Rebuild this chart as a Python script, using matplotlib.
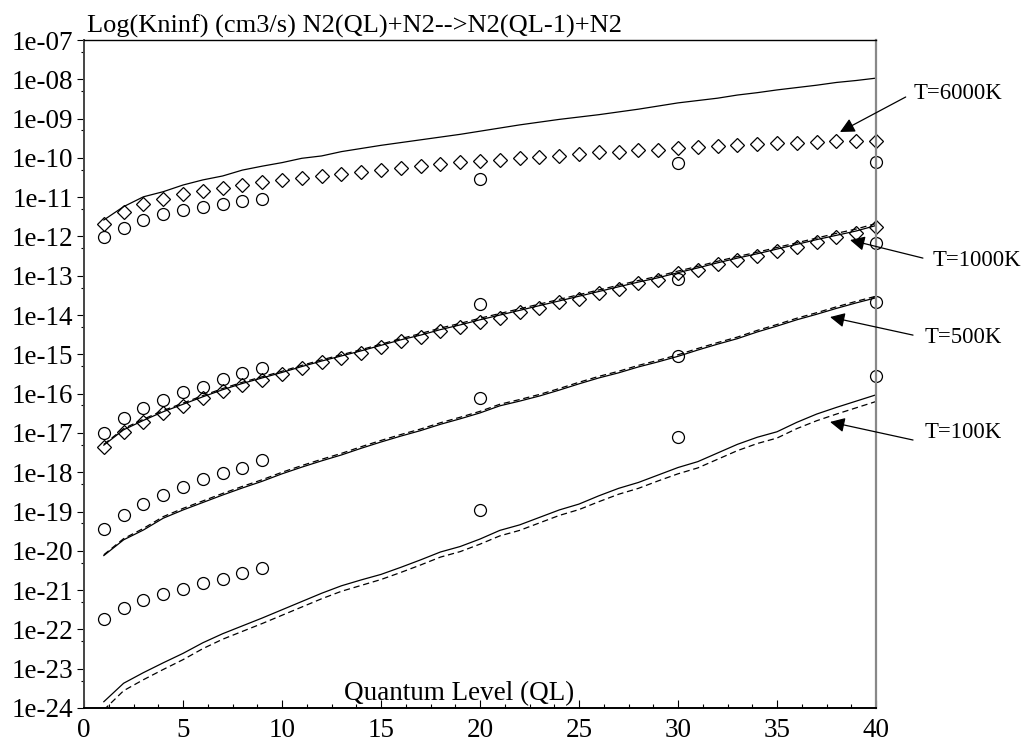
import numpy as np
import matplotlib
matplotlib.use("Agg")
import matplotlib.pyplot as plt
from matplotlib.ticker import FixedLocator, MultipleLocator, NullFormatter

plt.rcParams['font.family'] = ['Liberation Serif', 'DejaVu Serif']

# quantum levels
ql = np.arange(1, 41)
ql_circ = [1, 2, 3, 4, 5, 6, 7, 8, 9, 20, 30, 40]

# log10 of rate constants
# T=6000K
line_6000 = [-11.58, -11.24, -10.99, -10.86, -10.69, -10.56, -10.46, -10.31, -10.21, -10.12,
             -10.01, -9.95, -9.84, -9.76, -9.68, -9.61, -9.54, -9.47, -9.40, -9.32,
             -9.24, -9.16, -9.09, -9.02, -8.96, -8.90, -8.83, -8.76, -8.68, -8.60,
             -8.54, -8.48, -8.40, -8.34, -8.27, -8.21, -8.15, -8.08, -8.03, -7.97]
diam_6000 = [-11.68, -11.38, -11.18, -11.05, -10.93, -10.84, -10.76, -10.69, -10.61, -10.56,
             -10.50, -10.46, -10.41, -10.35, -10.31, -10.26, -10.21, -10.16, -10.11, -10.07,
             -10.05, -10.01, -9.97, -9.95, -9.91, -9.86, -9.84, -9.81, -9.79, -9.76,
             -9.72, -9.70, -9.67, -9.65, -9.63, -9.61, -9.60, -9.57, -9.56, -9.56]
circ_6000 = [-12.02, -11.78, -11.58, -11.44, -11.33, -11.24, -11.18, -11.09, -11.05, -10.54, -10.12, -10.10]

# T=1000K
line_1000 = [-17.31, -16.92, -16.68, -16.46, -16.27, -16.08, -15.90, -15.74, -15.60, -15.46,
             -15.31, -15.17, -15.04, -14.91, -14.77, -14.63, -14.51, -14.37, -14.25, -14.12,
             -14.00, -13.88, -13.76, -13.64, -13.52, -13.40, -13.28, -13.16, -13.05, -12.92,
             -12.80, -12.67, -12.55, -12.44, -12.32, -12.20, -12.08, -11.97, -11.86, -11.72]
dash_1000 = [-17.29, -16.89, -16.65, -16.43, -16.24, -16.05, -15.87, -15.71, -15.57, -15.43,
             -15.28, -15.14, -15.01, -14.88, -14.74, -14.60, -14.47, -14.33, -14.21, -14.08,
             -13.96, -13.84, -13.72, -13.60, -13.48, -13.36, -13.24, -13.12, -13.01, -12.88,
             -12.76, -12.63, -12.51, -12.40, -12.28, -12.16, -12.04, -11.92, -11.81, -11.67]
diam_1000 = [-17.37, -16.97, -16.71, -16.50, -16.31, -16.12, -15.92, -15.78, -15.65, -15.49,
             -15.35, -15.19, -15.09, -14.96, -14.81, -14.66, -14.57, -14.40, -14.30, -14.17,
             -14.07, -13.93, -13.82, -13.68, -13.59, -13.45, -13.34, -13.19, -13.11, -12.94,
             -12.85, -12.70, -12.60, -12.50, -12.37, -12.26, -12.13, -12.01, -11.92, -11.75]
circ_1000 = [-16.99, -16.61, -16.37, -16.16, -15.96, -15.82, -15.63, -15.48, -15.35, -13.73, -13.09, -12.17]

# T=500K
line_500 = [-20.12, -19.72, -19.47, -19.17, -18.96, -18.77, -18.58, -18.40, -18.23, -18.04,
            -17.87, -17.71, -17.56, -17.39, -17.23, -17.08, -16.94, -16.78, -16.64, -16.49,
            -16.31, -16.19, -16.06, -15.91, -15.75, -15.60, -15.47, -15.32, -15.19, -15.05,
            -14.89, -14.74, -14.60, -14.43, -14.28, -14.12, -13.98, -13.83, -13.69, -13.56]
dash_500 = [-20.10, -19.69, -19.43, -19.13, -18.92, -18.73, -18.54, -18.36, -18.19, -18.00,
            -17.83, -17.67, -17.52, -17.35, -17.19, -17.04, -16.90, -16.74, -16.60, -16.45,
            -16.27, -16.15, -16.02, -15.87, -15.71, -15.56, -15.43, -15.28, -15.15, -15.01,
            -14.85, -14.70, -14.56, -14.39, -14.24, -14.08, -13.94, -13.79, -13.65, -13.52]
circ_500 = [-19.44, -19.10, -18.81, -18.58, -18.37, -18.18, -18.03, -17.88, -17.69, -16.12, -15.04, -13.68]

# T=100K
line_100 = [-23.84, -23.37, -23.10, -22.85, -22.61, -22.34, -22.11, -21.91, -21.71, -21.50,
            -21.29, -21.08, -20.89, -20.74, -20.60, -20.42, -20.23, -20.03, -19.89, -19.70,
            -19.48, -19.34, -19.15, -18.96, -18.81, -18.60, -18.41, -18.26, -18.07, -17.88,
            -17.73, -17.51, -17.29, -17.11, -16.97, -16.73, -16.52, -16.35, -16.19, -16.03]
dash_100 = [-24.05, -23.56, -23.28, -23.02, -22.77, -22.49, -22.25, -22.05, -21.85, -21.64,
            -21.43, -21.22, -21.03, -20.88, -20.73, -20.55, -20.36, -20.16, -20.02, -19.83,
            -19.62, -19.48, -19.29, -19.10, -18.95, -18.75, -18.56, -18.41, -18.22, -18.04,
            -17.89, -17.67, -17.45, -17.27, -17.13, -16.89, -16.69, -16.52, -16.36, -16.20]
circ_100 = [-21.74, -21.45, -21.25, -21.10, -20.97, -20.81, -20.72, -20.57, -20.43, -18.96, -17.11, -15.55]

ytick_exp = list(range(-24, -6))
ytick_labels = ['1e-%02d' % (-e) for e in ytick_exp]

fig = plt.figure(figsize=(10.26, 7.44), dpi=100)
ax = fig.add_axes([0.0819, 0.0484, 0.7719, 0.8978])

lw = 0.9
dash = (0, (5, 3))
ax.plot(ql, 10.0**np.array(line_6000), 'k-', lw=lw)
ax.plot(ql, 10.0**np.array(line_1000), 'k-', lw=lw)
ax.plot(ql, 10.0**np.array(dash_1000), 'k', ls=dash, lw=lw)
ax.plot(ql, 10.0**np.array(line_500), 'k-', lw=lw)
ax.plot(ql, 10.0**np.array(dash_500), 'k', ls=dash, lw=lw)
ax.plot(ql, 10.0**np.array(line_100), 'k-', lw=lw)
ax.plot(ql, 10.0**np.array(dash_100), 'k', ls=dash, lw=lw)

for d in [diam_6000, diam_1000]:
    ax.plot(ql, 10.0**np.array(d), 'D', ms=6.8, mfc='none', mec='k', mew=0.9, clip_on=False)
for c in [circ_6000, circ_1000, circ_500, circ_100]:
    ax.plot(ql_circ, 10.0**np.array(c), 'o', ms=8.6, mfc='none', mec='k', mew=0.9, clip_on=False)

ax.set_yscale('log')
ax.set_xlim(0, 40)
ax.set_ylim(1e-24, 1e-07)
ax.yaxis.set_major_locator(FixedLocator([10.0**e for e in ytick_exp]))
ax.set_yticklabels(ytick_labels)
ax.yaxis.set_minor_locator(FixedLocator([5 * 10.0**e for e in ytick_exp[:-1]]))
ax.yaxis.set_minor_formatter(NullFormatter())
ax.xaxis.set_major_locator(MultipleLocator(5))
ax.xaxis.set_minor_locator(MultipleLocator(1.25))

ax.tick_params(axis='y', which='major', direction='out', length=5, width=0.8, pad=3, labelsize=19.5)
ax.tick_params(axis='y', which='minor', direction='out', length=2.5, width=0.8)
ax.tick_params(axis='x', which='major', direction='in', length=5.5, width=0.8, pad=7, labelsize=19.5)
ax.tick_params(axis='x', which='minor', direction='in', length=3, width=0.8)

ax.spines['left'].set_color('#444444')
ax.spines['left'].set_linewidth(1.4)
ax.spines['bottom'].set_linewidth(1.4)
ax.spines['top'].set_linewidth(1.0)
ax.spines['right'].set_color('#888888')
ax.spines['right'].set_linewidth(1.6)

ax.text(0.004, 1.0105, 'Log(Kninf) (cm3/s) N2(QL)+N2-->N2(QL-1)+N2', transform=ax.transAxes,
        ha='left', va='baseline', fontsize=19)
ax.text(0.473, 0.012, 'Quantum Level (QL)', transform=ax.transAxes,
        ha='center', va='baseline', fontsize=19.5)

arrow = dict(arrowstyle='-|>', color='k', lw=0.9, mutation_scale=22, shrinkA=0, shrinkB=0)
labels = [('T=6000K', (38.18, 10**-9.34), (41.5, 10**-8.45), (41.9, 10**-8.35)),
          ('T=1000K', (38.69, 10**-12.09), (42.37, 10**-12.55), (42.88, 10**-12.60)),
          ('T=500K', (37.68, 10**-14.05), (41.87, 10**-14.51), (42.47, 10**-14.58)),
          ('T=100K', (37.68, 10**-16.72), (41.87, 10**-17.18), (42.47, 10**-17.0))]
for txt, head, tail, pos in labels:
    ax.annotate('', xy=head, xytext=tail, arrowprops=arrow, annotation_clip=False)
    ax.text(pos[0], pos[1], txt, ha='left', va='center', fontsize=16.4, clip_on=False)

fig.savefig('out.png', dpi=100)
